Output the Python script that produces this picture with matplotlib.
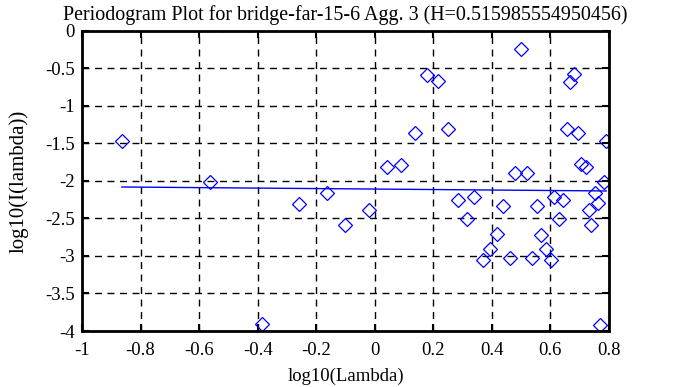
import matplotlib
matplotlib.use("Agg")
import matplotlib.pyplot as plt

title = "Periodogram Plot for bridge-far-15-6 Agg. 3 (H=0.515985554950456)"

log_lambda = [-0.864, -0.562, 0.501, 0.179, 0.216, 0.682, 0.668, 0.138, 0.251,
              0.658, 0.696, 0.791, 0.042, 0.089, 0.479, 0.521, 0.705, 0.721,
              0.782, -0.162, -0.260, -0.101, -0.386, 0.754, 0.614, 0.643,
              0.763, 0.731, -0.018, 0.285, 0.340, 0.439, 0.554, 0.314, 0.631,
              0.739, 0.417, 0.569, 0.393, 0.585, 0.369, 0.461, 0.536, 0.601,
              0.771]
log_I = [-1.462, -2.009, -0.240, -0.587, -0.667, -0.578, -0.676, -1.360, -1.302,
         -1.307, -1.360, -1.462, -1.813, -1.782, -1.893, -1.889, -1.773, -1.813,
         -2.009, -2.164, -2.302, -2.587, -3.911, -2.156, -2.209, -2.253,
         -2.298, -2.387, -2.382, -2.253, -2.218, -2.329, -2.333, -2.511, -2.507,
         -2.587, -2.711, -2.716, -2.911, -2.911, -3.053, -3.022, -3.022, -3.053,
         -3.920]

fit_x = [-0.864, 0.791]
fit_y = [-2.080, -2.133]

x_ticks = [-1, -0.8, -0.6, -0.4, -0.2, 0, 0.2, 0.4, 0.6, 0.8]
x_tick_labels = ["-1", "-0.8", "-0.6", "-0.4", "-0.2", "0", "0.2", "0.4", "0.6", "0.8"]
y_ticks = [-4, -3.5, -3, -2.5, -2, -1.5, -1, -0.5, 0]
y_tick_labels = ["-4", "-3.5", "-3", "-2.5", "-2", "-1.5", "-1", "-0.5", "0"]

plt.rcParams['font.family'] = ['Liberation Serif', 'DejaVu Serif']

fig = plt.figure(figsize=(6.78, 3.87), dpi=100)
ax = fig.add_axes([0.121, 0.1447, 0.777, 0.7753])

ax.plot(log_lambda, log_I, linestyle='none', marker='D', markersize=7,
        markerfacecolor='none', markeredgecolor='#0000ff', markeredgewidth=0.9)
ax.plot(fit_x, fit_y, color='#0000ff', linewidth=1)

ax.set_xlim(-1, 0.8)
ax.set_ylim(-4, 0)
ax.set_xticks(x_ticks)
ax.set_xticklabels(x_tick_labels)
ax.set_yticks(y_ticks)
ax.set_yticklabels(y_tick_labels)
ax.grid(True, color='black', linestyle=(0, (5, 4)), linewidth=1)
ax.tick_params(direction='in', length=5, width=1.5, top=True, right=True,
               labelsize=13.5, colors='black')
ax.tick_params(axis='x', pad=8)
ax.tick_params(axis='y', pad=5)
for s in ax.spines.values():
    s.set_linewidth(2)
ax.set_xlabel("log10(Lambda)", fontsize=13.5, labelpad=6)
ax.set_ylabel("log10(I(lambda))", fontsize=15, labelpad=12)
ax.set_title(title, fontsize=14.4, pad=8)

fig.savefig("out.png", dpi=100)
